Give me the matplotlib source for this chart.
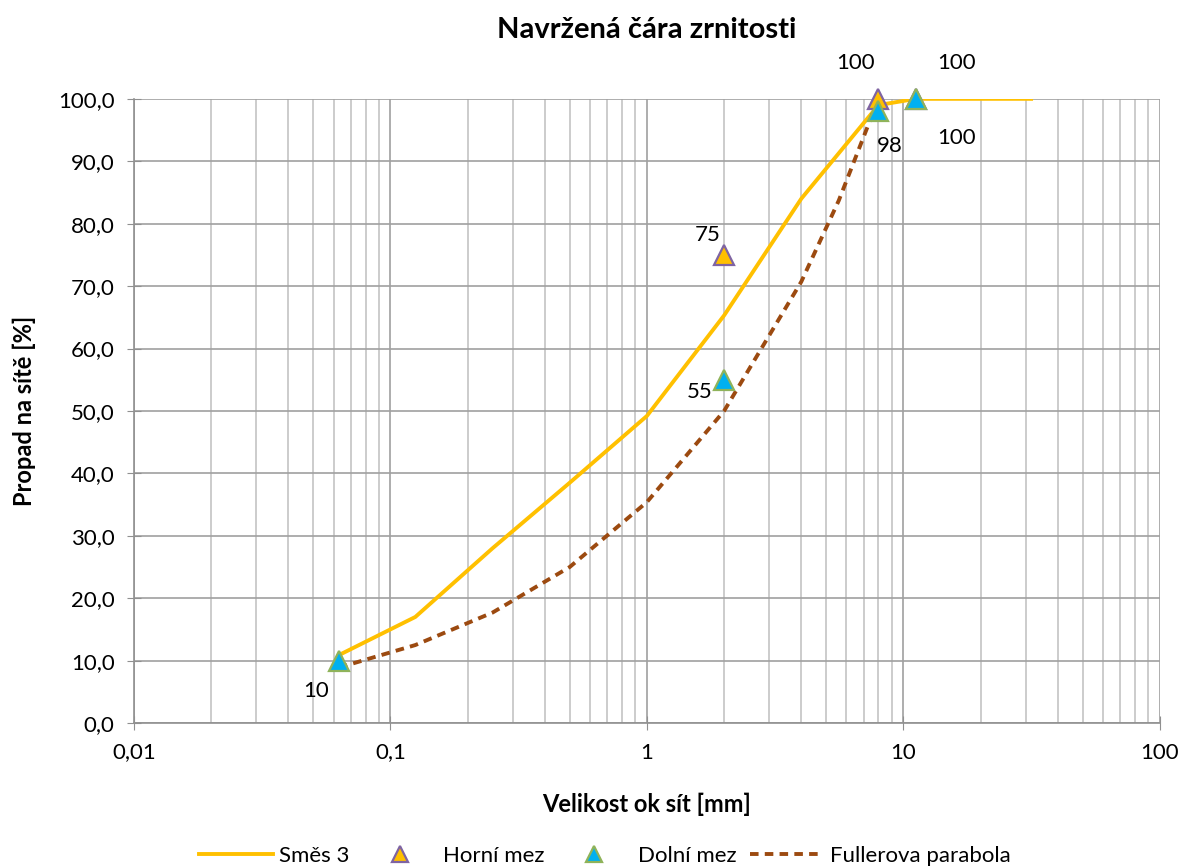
import numpy as np
import matplotlib.pyplot as plt
from matplotlib.ticker import FuncFormatter, LogLocator, MultipleLocator

plt.rcParams['font.family'] = ['Lato', 'DejaVu Sans']

# sítová řada [mm]
sita = [0.063, 0.125, 0.25, 0.5, 1, 2, 4, 8, 11.2, 16, 22.4, 31.5]
smes3 = [10.9, 17.0, 28.0, 38.5, 49.2, 65.3, 84.0, 99.0, 100.0, 100.0, 100.0, 100.0]

fuller_d = [0.063, 0.125, 0.25, 0.5, 1, 2, 4, 5.6, 8]
fuller = [8.9, 12.5, 17.7, 25.0, 35.4, 50.0, 70.7, 83.7, 100.0]

horni_d = [2, 8, 11.2]
horni = [75, 100, 100]
dolni_d = [0.063, 2, 8, 11.2]
dolni = [10, 55, 98, 100]

# posuny popisků v pixelech
horni_off = [(-16, 20), (-23, 36), (41, 36)]
dolni_off = [(-23, -30), (-24, -12), (11, -35), (41, -39)]

fig = plt.figure(figsize=(11.81, 8.67), dpi=100)
ax = fig.add_axes([0.1135, 0.166, 0.8685, 0.72])

ax.plot(sita, smes3, color='#FFC000', lw=2.8, label='Směs 3', zorder=3)
ax.plot(horni_d, horni, ls='none', marker='^', ms=15, mfc='#FFC000',
        mec='#7F64A2', mew=1.6, label='Horní mez', zorder=4, clip_on=False)
ax.plot(dolni_d, dolni, ls='none', marker='^', ms=15, mfc='#00B0F0',
        mec='#8FB35A', mew=1.6, label='Dolní mez', zorder=5, clip_on=False)
ax.plot(fuller_d, fuller, color='#9C4A10', lw=2.8, ls=(0, (2.2, 1.6)),
        label='Fullerova parabola', zorder=3)

for x, y, o in zip(horni_d, horni, horni_off):
    ax.annotate(f'{y}', (x, y), xytext=o, textcoords='offset pixels',
                ha='center', va='center', fontsize=16, annotation_clip=False)
for x, y, o in zip(dolni_d, dolni, dolni_off):
    ax.annotate(f'{y}', (x, y), xytext=o, textcoords='offset pixels',
                ha='center', va='center', fontsize=16, annotation_clip=False)

ax.set_xscale('log')
ax.set_xlim(0.01, 100)
ax.set_ylim(0, 100)
ax.yaxis.set_major_locator(MultipleLocator(10))
ax.yaxis.set_major_formatter(FuncFormatter(lambda v, p: f'{v:.1f}'.replace('.', ',')))
ax.xaxis.set_major_locator(LogLocator(base=10))
ax.xaxis.set_minor_locator(LogLocator(base=10, subs=np.arange(2, 10)))
ax.xaxis.set_major_formatter(FuncFormatter(lambda v, p: f'{v:g}'.replace('.', ',')))
ax.xaxis.set_minor_formatter(FuncFormatter(lambda v, p: ''))

ax.grid(True, which='major', color='#A0A0A0', lw=1.2)
ax.grid(True, which='minor', axis='x', color='#C4C4C4', lw=1.2)
ax.set_axisbelow(True)
for s in ['top', 'right']:
    ax.spines[s].set_visible(False)
for s in ['left', 'bottom']:
    ax.spines[s].set_color('#909090')
    ax.spines[s].set_linewidth(1.2)
ax.tick_params(which='major', direction='inout', length=10, color='#909090',
               labelsize=16, pad=9)
ax.tick_params(which='minor', length=0)

ax.set_title('Navržená čára zrnitosti', fontsize=21, fontweight='bold', pad=44)
ax.set_xlabel('Velikost ok sít [mm]', fontsize=17, fontweight='bold', labelpad=22)
ax.set_ylabel('Propad na sítě [%]', fontsize=17, fontweight='bold', labelpad=16)

ax.legend(loc='center', bbox_to_anchor=(0.459, -0.213), ncol=4,
          frameon=False, fontsize=16, handlelength=3.3, columnspacing=0.6,
          handletextpad=0.3, markerscale=0.8)

plt.savefig('out.png', dpi=100)
